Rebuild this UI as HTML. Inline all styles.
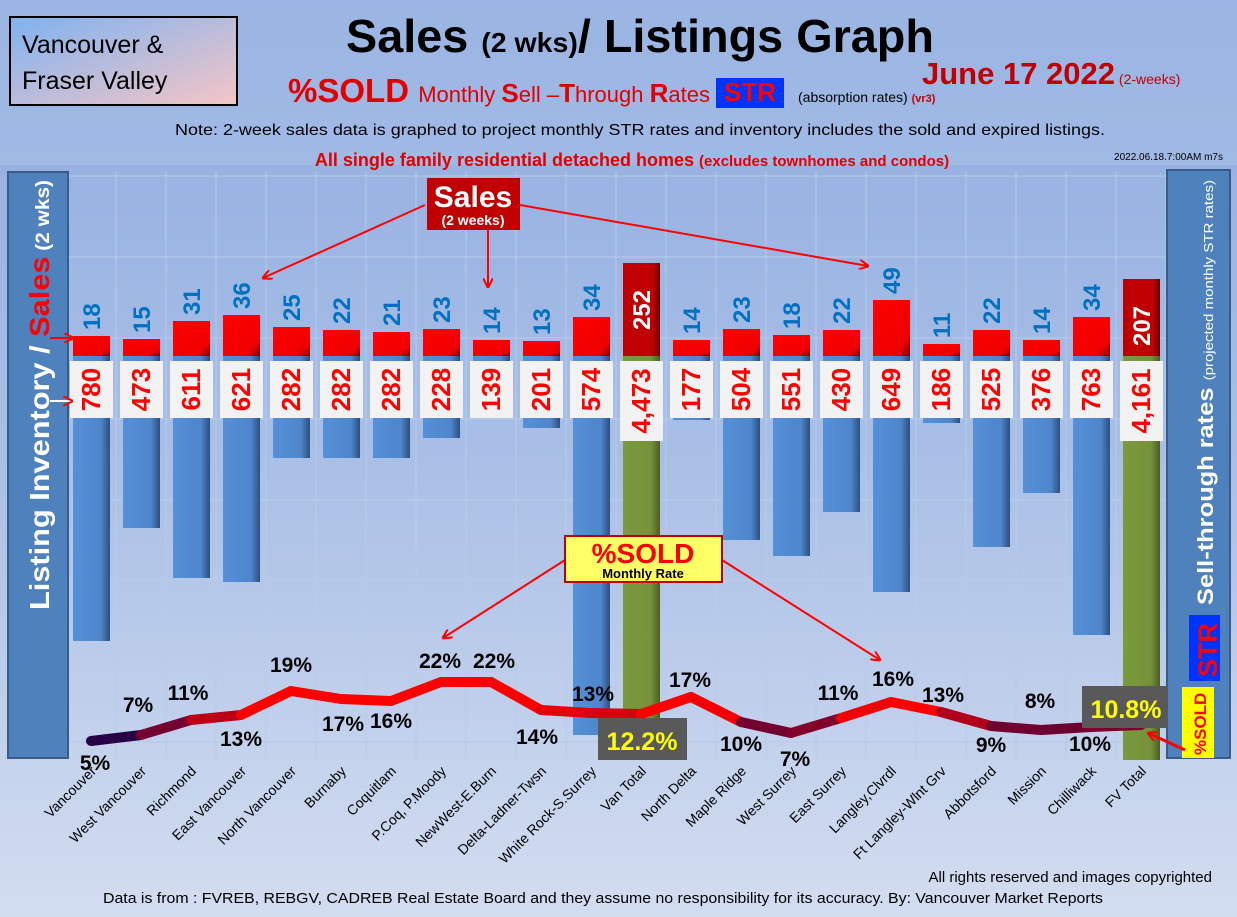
<!DOCTYPE html>
<html><head><meta charset="utf-8"><style>
html,body{margin:0;padding:0;width:1237px;height:917px;overflow:hidden}
svg{display:block;font-family:"Liberation Sans",sans-serif}
</style></head><body>
<svg id="s" width="1237" height="917" viewBox="0 0 1237 917" xmlns="http://www.w3.org/2000/svg">
<defs>
<linearGradient id="bg" x1="0" y1="0" x2="0" y2="1"><stop offset="0" stop-color="#8fabe0"/><stop offset="0.5" stop-color="#a9bfe6"/><stop offset="1" stop-color="#d3ddf0"/></linearGradient>
<linearGradient id="blue" x1="0" y1="0" x2="1" y2="0"><stop offset="0" stop-color="#5590d8"/><stop offset="0.75" stop-color="#4f86cc"/><stop offset="1" stop-color="#2c4f80"/></linearGradient>
<linearGradient id="red" x1="0" y1="0" x2="1" y2="1"><stop offset="0" stop-color="#ff0000"/><stop offset="0.8" stop-color="#ee0000"/><stop offset="1" stop-color="#7a0000"/></linearGradient>
<linearGradient id="dred" x1="0" y1="0" x2="1" y2="0"><stop offset="0" stop-color="#c00000"/><stop offset="0.8" stop-color="#c00000"/><stop offset="1" stop-color="#6a0000"/></linearGradient>
<linearGradient id="grn" x1="0" y1="0" x2="1" y2="0"><stop offset="0" stop-color="#7a9a3c"/><stop offset="0.75" stop-color="#76923c"/><stop offset="1" stop-color="#4a5e22"/></linearGradient>
<linearGradient id="vt" x1="0" y1="0" x2="1" y2="1"><stop offset="0" stop-color="#7fb2f0"/><stop offset="1" stop-color="#f4c6c6"/></linearGradient>
<marker id="ar" markerWidth="10" markerHeight="10" refX="9" refY="5" orient="auto" markerUnits="userSpaceOnUse"><path d="M0,0 L10,5 L0,10" fill="none" stroke="#ff0000" stroke-width="2"/></marker>
</defs>
<rect width="1237" height="917" fill="url(#bg)"/>
<rect x="0" y="0" width="1237" height="165" fill="#a8bfe8" opacity="0.5"/>
<g id="grid" stroke="#b8cbe8" stroke-width="1"></g>
<rect x="10" y="17" width="227" height="88" fill="url(#vt)" stroke="#000" stroke-width="2"/>
<text x="22" y="53" font-size="25">Vancouver &amp;</text>
<text x="22" y="89" font-size="25">Fraser Valley</text>
<text x="640" y="52" font-size="46" font-weight="bold" text-anchor="middle" textLength="588" lengthAdjust="spacingAndGlyphs">Sales <tspan font-size="28">(2 wks)</tspan>/ Listings Graph</text>
<text x="922" y="84" font-size="31" font-weight="bold" fill="#c00000">June 17  2022<tspan font-size="14" font-weight="normal"> (2-weeks)</tspan></text>
<text x="288" y="102" font-size="33" font-weight="bold" fill="#e00000" textLength="422" lengthAdjust="spacingAndGlyphs">%SOLD <tspan font-size="22" font-weight="normal">Monthly </tspan><tspan font-size="26" font-weight="bold">S</tspan><tspan font-size="22" font-weight="normal">ell –</tspan><tspan font-size="26" font-weight="bold">T</tspan><tspan font-size="22" font-weight="normal">hrough </tspan><tspan font-size="26" font-weight="bold">R</tspan><tspan font-size="22" font-weight="normal">ates</tspan></text>
<rect x="716" y="78" width="68" height="30" fill="#0033ff"/>
<text x="750" y="101" font-size="26" font-weight="bold" fill="#ff0000" text-anchor="middle">STR</text>
<text x="798" y="102" font-size="14">(absorption rates) <tspan fill="#c00000" font-weight="bold" font-size="11">(vr3)</tspan></text>
<text x="640" y="135" font-size="16" text-anchor="middle" textLength="930" lengthAdjust="spacingAndGlyphs">Note: 2-week sales data is graphed to project monthly STR rates and inventory includes the sold and expired listings.</text>
<text x="632" y="166" font-size="18" font-weight="bold" fill="#e00000" text-anchor="middle">All single family residential detached homes <tspan font-size="15">(excludes townhomes and condos)</tspan></text>
<text x="1223" y="160" font-size="10" text-anchor="end">2022.06.18.7:00AM m7s</text>
<rect x="8" y="172" width="60" height="586" fill="#4f81bd" stroke="#385d8a" stroke-width="2"/>
<text transform="translate(49,610) rotate(-90)" font-size="28" font-weight="bold" fill="#fff" textLength="430" lengthAdjust="spacingAndGlyphs">Listing Inventory / <tspan fill="#ff0000">Sales</tspan><tspan font-size="19"> (2  wks)</tspan></text>
<rect x="1167" y="170" width="63" height="588" fill="#4f81bd" stroke="#385d8a" stroke-width="2"/>
<text transform="translate(1213,605) rotate(-90)" font-size="22" font-weight="bold" fill="#fff" textLength="425" lengthAdjust="spacingAndGlyphs">Sell-through rates <tspan font-size="13" font-weight="normal">  (projected monthly STR rates)</tspan></text>
<rect x="1189" y="615" width="31" height="66" fill="#0033ff"/>
<text transform="translate(1217,677) rotate(-90)" font-size="27" font-weight="bold" fill="#ff0000">STR</text>
<rect x="1182" y="687" width="32" height="71" fill="#ffff00"/>
<text transform="translate(1206,755) rotate(-90)" font-size="17" font-weight="bold" fill="#ff0000">%SOLD</text>
<g id="bars"></g>
<g id="line"></g>
<g id="lbl"></g>
<line x1="425" y1="205" x2="263" y2="278" stroke="#ff0000" stroke-width="2" marker-end="url(#ar)"/>
<line x1="488" y1="230" x2="488" y2="287" stroke="#ff0000" stroke-width="2" marker-end="url(#ar)"/>
<line x1="520" y1="205" x2="868" y2="266" stroke="#ff0000" stroke-width="2" marker-end="url(#ar)"/>
<rect x="427" y="178" width="93" height="52" fill="#c00000"/>
<text x="473" y="207" font-size="30" font-weight="bold" fill="#fff" text-anchor="middle">Sales</text>
<text x="473" y="225" font-size="14" font-weight="bold" fill="#fff" text-anchor="middle">(2 weeks)</text>
<line x1="565" y1="560" x2="443" y2="638" stroke="#ff0000" stroke-width="2" marker-end="url(#ar)"/>
<line x1="722" y1="560" x2="880" y2="660" stroke="#ff0000" stroke-width="2" marker-end="url(#ar)"/>
<rect x="565" y="536" width="157" height="46" fill="#ffff66" stroke="#c00000" stroke-width="2"/>
<text x="643" y="563" font-size="28" font-weight="bold" fill="#ff0000" text-anchor="middle">%SOLD</text>
<text x="643" y="578" font-size="13" font-weight="bold" text-anchor="middle">Monthly Rate</text>
<line x1="1185" y1="750" x2="1148" y2="733" stroke="#ff0000" stroke-width="3" marker-end="url(#ar)"/>
<line x1="50" y1="338" x2="73" y2="338" stroke="#ff0000" stroke-width="2" marker-end="url(#ar)"/>
<line x1="50" y1="401" x2="72" y2="401" stroke="#fff" stroke-width="2" marker-end="url(#ar)"/>
<text x="1212" y="882" font-size="15" text-anchor="end">All rights reserved and  images copyrighted</text>
<text x="103" y="903" font-size="15" textLength="1000" lengthAdjust="spacingAndGlyphs">Data is from : FVREB, REBGV, CADREB Real Estate Board and they assume no responsibility for its accuracy. By: Vancouver Market Reports</text>
</svg>
<script>
var NS="http://www.w3.org/2000/svg";
function el(p,t,a,txt){var e=document.createElementNS(NS,t);for(var k in a)e.setAttribute(k,a[k]);if(txt!=null)e.textContent=txt;document.getElementById(p).appendChild(e);return e;}
var names=["Vancouver","West Vancouver","Richmond","East Vancouver","North Vancouver","Burnaby","Coquitlam","P.Coq, P.Moody","NewWest-E.Burn","Delta-Ladner-Twsn","White Rock-S.Surrey","Van Total","North Delta","Maple Ridge","West Surrey","East Surrey","Langley,Clvrdl","Ft Langley-Wlnt Grv","Abbotsford","Mission","Chilliwack","FV Total"];
var sales=["18","15","31","36","25","22","21","23","14","13","34","252","14","23","18","22","49","11","22","14","34","207"];
var salesTop=[336,339,321,315,327,330,332,329,340,341,317,263,340,329,335,330,300,344,330,340,317,279];
var inv=["780","473","611","621","282","282","282","228","139","201","574","4,473","177","504","551","430","649","186","525","376","763","4,161"];
var invBot=[641,528,578,582,458,458,458,438,405,428,735,760,420,540,556,512,592,423,547,493,635,760];
var pts=[[91,741],[141,735],[191,720],[241,715],[291,691],[341,699],[391,701],[441,682],[491,682],[541,710],[591,713],[641,714],[691,697],[741,722],[791,733],[841,718],[891,702],[941,712],[991,726],[1041,730],[1091,727],[1141,725]];
var pct=["5%","7%","11%","13%","19%","17%","16%","22%","22%","14%","13%","","17%","10%","7%","11%","16%","13%","9%","8%","10%",""];
var pxy=[[95,770],[138,712],[188,700],[241,746],[291,672],[343,731],[391,728],[440,668],[494,668],[537,744],[593,701],[0,0],[690,687],[741,751],[795,766],[838,700],[893,686],[943,702],[991,752],[1040,708],[1090,751]];
for(var i=0;i<23;i++){var x=66+i*50;el("grid","line",{x1:x,y1:172,x2:x,y2:758});}
[176,257,338,419,500,580,661,742].forEach(function(y){el("grid","line",{x1:68,y1:y,x2:1166,y2:y});});
for(var i=0;i<22;i++){
 var c=91+i*50, tot=(i==11||i==21);
 el("bars","rect",{x:c-18,y:356,width:37,height:invBot[i]-356,fill:tot?"url(#grn)":"url(#blue)"});
 el("bars","rect",{x:c-18,y:salesTop[i],width:37,height:356-salesTop[i],fill:tot?"url(#dred)":"url(#red)"});
 var bh=tot?80:57;
 el("lbl","rect",{x:c-21,y:361,width:43,height:bh,fill:"#f2f2f2"});
 el("lbl","text",{transform:"translate("+(c+9)+","+(361+bh/2)+") rotate(-90)","font-size":"26","font-weight":"bold",fill:"#ff0000","text-anchor":"middle"},inv[i]);
 if(tot){el("lbl","text",{transform:"translate("+(c+9)+","+(salesTop[i]+47)+") rotate(-90)","font-size":"24","font-weight":"bold",fill:"#fff","text-anchor":"middle"},sales[i]);}
 else{el("lbl","text",{transform:"translate("+(c+9)+","+(salesTop[i]-6)+") rotate(-90)","font-size":"24","font-weight":"bold",fill:"#0070c0"},sales[i]);}
 el("lbl","text",{transform:"translate("+(c+6)+",772) rotate(-45)","font-size":"14","text-anchor":"end"},names[i]);
}
for(var i=0;i<21;i++){
 var a=pts[i],b=pts[i+1];var m=(a[1]+b[1])/2;var f=Math.max(0,Math.min(1,(m-708)/30));
 var r=Math.round(255-f*215),bb=Math.round(f*70);
 el("line","line",{x1:a[0],y1:a[1],x2:b[0],y2:b[1],stroke:"rgb("+r+",0,"+bb+")","stroke-width":"10","stroke-linecap":"round"});
}
pct.forEach(function(p,i){if(p&&pxy[i])el("lbl","text",{x:pxy[i][0],y:pxy[i][1],"font-size":"21","font-weight":"bold","text-anchor":"middle"},p);});
el("lbl","rect",{x:598,y:718,width:89,height:42,fill:"#595959"});
el("lbl","text",{x:642,y:750,"font-size":"25","font-weight":"bold",fill:"#ffff00","text-anchor":"middle"},"12.2%");
el("lbl","rect",{x:1082,y:686,width:86,height:42,fill:"#595959"});
el("lbl","text",{x:1126,y:718,"font-size":"25","font-weight":"bold",fill:"#ffff00","text-anchor":"middle"},"10.8%");
</script>
</body></html>
